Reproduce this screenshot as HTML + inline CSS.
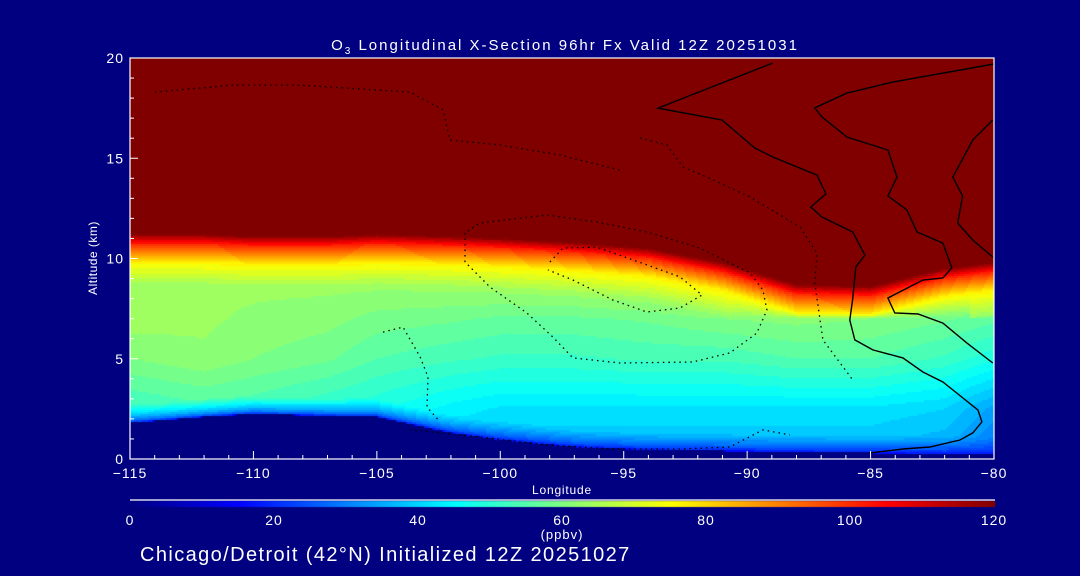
<!DOCTYPE html>
<html><head><meta charset="utf-8">
<style>
html,body{margin:0;padding:0;background:#000080;}
#wrap{position:relative;width:1080px;height:576px;overflow:hidden;background:#000080;font-family:"Liberation Sans",sans-serif;color:#fff;}
canvas{position:absolute;left:0;top:0;}
svg{position:absolute;left:0;top:0;}
</style></head>
<body>
<div id="wrap">
<canvas id="field" width="1080" height="576"></canvas>
<svg id="ov" width="1080" height="576"></svg>
</div>
<script>
// ---- data ----
const ctrlLon = [-115,-112,-110,-107,-105,-102,-100,-97,-94,-91,-88,-85,-82,-80];
const groundKm = [1.8,2.1,2.25,2.15,2.1,1.3,0.95,0.6,0.45,0.4,0.35,0.3,0.25,0.2];
const tropoKm = [11.2,11.2,11.1,11.1,11.2,11.1,11.0,10.8,10.5,9.8,8.7,8.6,9.5,9.8];
const o3At2p5 = [52,54,53,50,48,44,42,42,42,42,42,42,40,34];
const o3At5 = [60,62,60,58,55,53,52,52,53,53,55,55,52,48];
const o3At7 = [64,63,62,61,59,58,57,57,58,60,61,60,58,56];
const xTicks = [-115,-110,-105,-100,-95,-90,-85,-80];
const yTicks = [0,5,10,15,20];
const cbTicks = [0,20,40,60,80,100,120];
const solidA = [[-88.96,19.75],[-93.61,17.5],[-91.02,16.91],[-89.69,15.51],[-88.96,15.06],[-87.17,14.16],[-86.81,13.22],[-87.42,12.57],[-86.97,12.07],[-85.72,11.32],[-85.23,10.17],[-85.6,9.58],[-85.72,8.03],[-85.84,6.93],[-85.64,5.94],[-84.91,5.44],[-83.69,5.04],[-82.88,4.34],[-82.07,3.84],[-81.51,3.29],[-80.65,2.44],[-80.49,1.85],[-80.86,1.3],[-81.38,0.95],[-82.6,0.6],[-83.69,0.5],[-85.03,0.3]];
const solidB = [[-80.0,19.7],[-84.1,18.8],[-85.96,18.25],[-87.26,17.51],[-86.97,17.06],[-85.96,16.06],[-84.3,15.41],[-83.93,14.06],[-84.3,13.12],[-83.53,12.42],[-83.12,11.32],[-82.07,10.77],[-81.71,9.53],[-82.07,9.03],[-82.88,8.93],[-84.3,8.03],[-84.02,7.28],[-83.08,7.23],[-82.07,6.78],[-81.1,5.79],[-80.05,4.79]];
const solidC = [[-80.05,16.91],[-80.86,15.91],[-81.67,14.06],[-81.27,13.12],[-81.47,11.77],[-80.86,10.92],[-80.05,10.07]];
const dotOuter = [[-101.43,11.27],[-101.43,9.83],[-100.42,8.58],[-98.92,7.28],[-97.87,6.08],[-97.06,5.04],[-95.15,4.79],[-92.2,4.84],[-90.7,5.29],[-89.61,6.28],[-89.2,7.43],[-89.36,8.43],[-89.89,9.28],[-91.91,10.52],[-94.06,11.32],[-96.09,11.82],[-98.11,12.17],[-100.82,11.77],[-101.43,11.27]];
const dotInner = [[-97.99,9.83],[-97.46,10.52],[-96.09,10.57],[-94.06,9.68],[-92.72,9.08],[-91.83,8.18],[-92.72,7.53],[-94.06,7.33],[-95.44,7.93],[-97.06,8.93],[-98.07,9.43]];
const dotLeft = [[-104.75,6.33],[-103.94,6.58],[-103.25,5.09],[-102.93,4.09],[-102.97,2.59],[-102.44,1.85]];
const dotLow = [[-103.66,1.45],[-100.82,1.1],[-98.11,0.7],[-95.44,0.5],[-92.72,0.5],[-90.7,0.6],[-89.36,1.45],[-88.27,1.2]];
const dotRight = [[-94.34,16.01],[-93.25,15.66],[-92.6,14.56],[-91.63,14.06],[-89.89,13.07],[-87.86,11.57],[-87.17,10.27],[-87.26,8.78],[-86.93,5.94],[-85.72,3.94]];
const dotTop = [[-113.99,18.3],[-110.83,18.65],[-108.11,18.65],[-103.66,18.3],[-102.32,17.41],[-102.04,15.91],[-100.01,15.66],[-97.58,15.16],[-95.15,14.41]];

// ---- axes ----
const X0=130,X1=994,Y0=459,Y1=58;
const xs = lon => X0 + (lon+115)/35*(X1-X0);
const ys = km => Y0 - km/20*(Y0-Y1);

function interp(arrX, arrY, x){
  if(x<=arrX[0]) return arrY[0];
  for(let i=1;i<arrX.length;i++){ if(x<=arrX[i]){const t=(x-arrX[i-1])/(arrX[i]-arrX[i-1]);return arrY[i-1]+t*(arrY[i]-arrY[i-1]);} }
  return arrY[arrY.length-1];
}
function jet(v){
  let t=Math.max(0,Math.min(1,v/120));
  const f=(a)=>Math.max(0,Math.min(1,a));
  const r=f(Math.min(4*t-1.5,-4*t+4.5)), g=f(Math.min(4*t-0.5,-4*t+3.5)), b=f(Math.min(4*t+0.5,-4*t+2.5));
  return `rgb(${Math.round(r*255)},${Math.round(g*255)},${Math.round(b*255)})`;
}
function o3(lon, z){
  const G=interp(ctrlLon,groundKm,lon), T=interp(ctrlLon,tropoKm,lon);
  if(z<G) return null;
  if(z>=T) return 125;
  const v25=interp(ctrlLon,o3At2p5,lon);
  const kz=[0,2.5,5,7,T-2.6,T-1.4,T-0.5,T];
  const kv=[v25-6,v25,interp(ctrlLon,o3At5,lon),interp(ctrlLon,o3At7,lon),63,76,100,120];
  const zz=[],vv=[];
  for(let i=0;i<kz.length;i++){ if(zz.length===0||kz[i]>zz[zz.length-1]+0.05){zz.push(kz[i]);vv.push(kv[i]);} }
  const free=interp(zz,vv,z);
  const s=Math.min(1,(z-G)/0.9);
  const w=Math.sqrt(s);
  return 14+(free-14)*w;
}
const cv=document.getElementById('field').getContext('2d');
for(let px=X0;px<X1;px+=2){
  const lon=-115+(px+1-X0)/(X1-X0)*35;
  for(let py=Y1;py<Y0;py+=2){
    const z=(Y0-(py+1))/(Y0-Y1)*20;
    const v=o3(lon,z);
    if(v===null){cv.fillStyle='#000080';}
    else{const q=Math.floor(v/2.5)*2.5+1.25;cv.fillStyle=jet(q);}
    cv.fillRect(px,py,2,2);
  }
}
// colorbar
const grad=cv.createLinearGradient(130,0,995,0);
for(let i=0;i<=24;i++){grad.addColorStop(i/24,jet(i*5));}
cv.fillStyle=grad;cv.fillRect(130,501,865,6);

const NS='http://www.w3.org/2000/svg';
const svg=document.getElementById('ov');
function el(tag,attrs,parent){const e=document.createElementNS(NS,tag);for(const k in attrs)e.setAttribute(k,attrs[k]);(parent||svg).appendChild(e);return e;}
function txt(s,x,y,size,anchor,name,extra){const t=el('text',Object.assign({x:x,y:y,'font-size':size,'text-anchor':anchor||'start',fill:'#fff','font-family':'Liberation Sans, sans-serif'},extra||{}));t.textContent=s;


return t;}

function line(pts,dash,name){
  const p=el('polyline',{points:pts.map(d=>xs(d[0]).toFixed(1)+','+ys(d[1]).toFixed(1)).join(' '),fill:'none',stroke:'#000','stroke-width':dash?1.3:1.4,'stroke-dasharray':dash?'1.5,4':'none'});
  
  
}
line(solidA,false,'contour-zero-a');
line(solidB,false,'contour-zero-b');
line(solidC,false,'contour-ten-c');
line(dotOuter,true,'contour-minus10-oval');
line(dotInner,true,'contour-minus20-oval');
line(dotLeft,true,'contour-minus10-left');
line(dotLow,true,'contour-minus10-low');
line(dotRight,true,'contour-minus10-right');
line(dotTop,true,'contour-minus10-top');

// frame
const fr=el('rect',{x:X0,y:Y1,width:X1-X0,height:Y0-Y1,fill:'none',stroke:'#fff','stroke-width':1.2});


for(let l=-115;l<=-80;l++){
  const major=(l%5===0);
  const tk=el('line',{x1:xs(l),x2:xs(l),y1:Y0,y2:Y0-(major?8:4),stroke:'#fff','stroke-width':1});
  
  
}
xTicks.forEach(l=>{txt('\u2212'+Math.abs(l),xs(l),478,14,'middle','x-tick-label',{'letter-spacing':'1'});});
for(let k=0;k<=20;k++){
  const major=(k%5===0);
  const tk=el('line',{x1:X0,x2:X0+(major?8:4),y1:ys(k),y2:ys(k),stroke:'#fff','stroke-width':1});
  
  
}
yTicks.forEach(k=>{txt(String(k),124,ys(k)+5,14,'end','y-tick-label',{'letter-spacing':'1'});});
txt('Altitude (km)',97,258,12,'middle','y-axis-title',{transform:'rotate(-90 97 258)','letter-spacing':'0.5'});
txt('Longitude',562,494,12,'middle','x-axis-title',{'letter-spacing':'0.8'});
const tt=txt('',565,50,15,'middle','chart-title',{'letter-spacing':'2'});
tt.innerHTML='O<tspan font-size="10" dy="4">3</tspan><tspan dy="-4"> Longitudinal X-Section 96hr  Fx Valid 12Z 20251031</tspan>';
tt.setAttribute('xml:space','preserve');
const cbl=el('line',{x1:130,x2:995,y1:500,y2:500,stroke:'#fff','stroke-width':1.2});


cbTicks.forEach(v=>{txt(String(v),130+v/120*864,525,14,'middle','colorbar-label',{'letter-spacing':'1'});});
txt('(ppbv)',562,539,13,'middle','colorbar-unit',{'letter-spacing':'1'});
txt('Chicago/Detroit (42\u00B0N) Initialized 12Z 20251027',140,561,20,'start','footer-text',{'letter-spacing':'1.4'});
</script>
</body></html>
